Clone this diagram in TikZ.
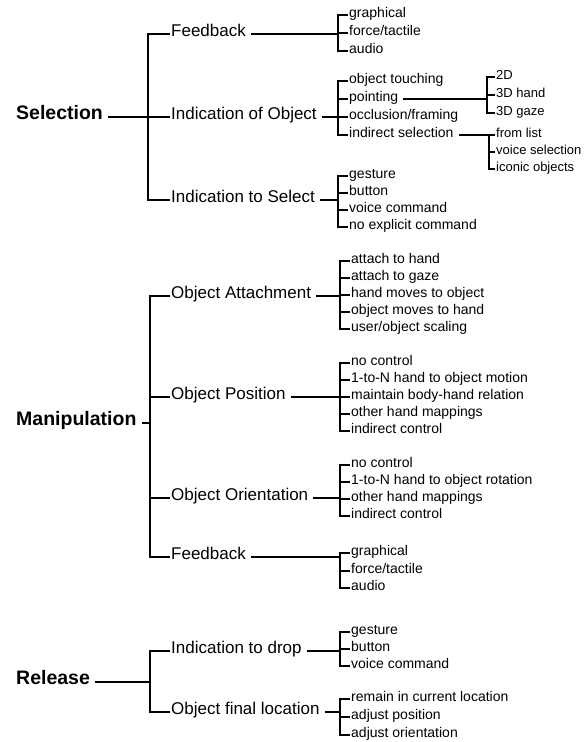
\documentclass[tikz,border=0pt]{standalone}
\usepackage{fontspec}
\setmainfont{Liberation Sans}
% one fork: parent line, bracket with top and bottom stubs, middle stubs
\newcommand\fork[5]{%
  \draw[link] (#1.east) -- (#1.east -| #2);
  \draw[brk] (#3.west) -- (#3.west -| #2) -- (#4.west -| #2) -- (#4.west);
  \foreach \c in {#5} {\draw[brk] (\c.west) -- (\c.west -| #2);}
}
\begin{document}
\begin{tikzpicture}[x=1pt,y=-1pt,
  txt/.style={anchor=west, inner xsep=1pt, inner ysep=0pt, text height=0.72em, text depth=0.2em},
  top/.style={txt, font=\fontsize{19.5}{20}\selectfont\bfseries},
  mid/.style={txt, font=\fontsize{17}{18}\selectfont},
  leaf/.style={txt, font=\fontsize{14}{15}\selectfont},
  sub/.style={txt, font=\fontsize{13}{14}\selectfont},
  link/.style={line width=1.7pt, shorten <=4pt},
  brk/.style={line width=2pt},
]
\useasboundingbox (0,0) rectangle (587,742);

% ---------- bracket positions ----------
\coordinate (bS) at (148,0);
\coordinate (bM) at (150,0);
\coordinate (bR) at (150,0);
\coordinate (bS1) at (338,0);
\coordinate (bS2) at (338,0);
\coordinate (bS3) at (338,0);
\coordinate (bPt) at (487,0);
\coordinate (bIn) at (489,0);
\coordinate (bM1) at (340,0);
\coordinate (bM2) at (340,0);
\coordinate (bM3) at (340,0);
\coordinate (bM4) at (340,0);
\coordinate (bR1) at (340,0);
\coordinate (bR2) at (340,0);

% ---------- Selection ----------
\node[top] (sel) at (15,117) {Selection};
\node[mid] (s1) at (170,34) {Feedback};
\node[mid] (s2) at (170,117) {Indication of Object};
\node[mid] (s3) at (170,200) {Indication to Select};

\node[leaf] (s1a) at (348,15) {graphical};
\node[leaf] (s1b) at (348,33) {force/tactile};
\node[leaf] (s1c) at (348,51) {audio};

\node[leaf] (s2a) at (348,81) {object touching};
\node[leaf] (s2b) at (348,99) {pointing};
\node[leaf] (s2c) at (348,117) {occlusion/framing};
\node[leaf] (s2d) at (348,135) {indirect selection};

\node[sub] (s2b1) at (495,77) {2D};
\node[sub] (s2b2) at (495,95) {3D hand};
\node[sub] (s2b3) at (495,113) {3D gaze};

\node[sub] (s2d1) at (495,135) {from list};
\node[sub] (s2d2) at (495,152) {voice selection};
\node[sub] (s2d3) at (495,169) {iconic objects};

\node[leaf] (s3a) at (348,176) {gesture};
\node[leaf] (s3b) at (348,193) {button};
\node[leaf] (s3c) at (348,210) {voice command};
\node[leaf] (s3d) at (348,227) {no explicit command};

\fork{sel}{bS}{s1}{s3}{s2}
\fork{s1}{bS1}{s1a}{s1c}{s1b}
\fork{s2}{bS2}{s2a}{s2d}{s2b,s2c}
\fork{s2b}{bPt}{s2b1}{s2b3}{s2b2}
\fork{s2d}{bIn}{s2d1}{s2d3}{s2d2}
\fork{s3}{bS3}{s3a}{s3d}{s3b,s3c}

% ---------- Manipulation ----------
\node[top] (man) at (15,423) {Manipulation};
\node[mid] (m1) at (170,296) {Object Attachment};
\node[mid] (m2) at (170,397) {Object Position};
\node[mid] (m3) at (170,498) {Object Orientation};
\node[mid] (m4) at (170,557) {Feedback};

\node[leaf] (m1a) at (350,261) {attach to hand};
\node[leaf] (m1b) at (350,278) {attach to gaze};
\node[leaf] (m1c) at (350,295) {hand moves to object};
\node[leaf] (m1d) at (350,312) {object moves to hand};
\node[leaf] (m1e) at (350,329) {user/object scaling};

\node[leaf] (m2a) at (350,363) {no control};
\node[leaf] (m2b) at (350,380) {1-to-N hand to object motion};
\node[leaf] (m2c) at (350,397) {maintain body-hand relation};
\node[leaf] (m2d) at (350,414) {other hand mappings};
\node[leaf] (m2e) at (350,431) {indirect control};

\node[leaf] (m3a) at (350,465) {no control};
\node[leaf] (m3b) at (350,482) {1-to-N hand to object rotation};
\node[leaf] (m3c) at (350,499) {other hand mappings};
\node[leaf] (m3d) at (350,516) {indirect control};

\node[leaf] (m4a) at (350,553) {graphical};
\node[leaf] (m4b) at (350,571) {force/tactile};
\node[leaf] (m4c) at (350,588) {audio};

\fork{man}{bM}{m1}{m4}{m2,m3}
\fork{m1}{bM1}{m1a}{m1e}{m1b,m1c,m1d}
\fork{m2}{bM2}{m2a}{m2e}{m2b,m2c,m2d}
\fork{m3}{bM3}{m3a}{m3d}{m3b,m3c}
\fork{m4}{bM4}{m4a}{m4c}{m4b}

% ---------- Release ----------
\node[top] (rel) at (15,682) {Release};
\node[mid] (r1) at (170,651) {Indication to drop};
\node[mid] (r2) at (170,712) {Object final location};

\node[leaf] (r1a) at (350,632) {gesture};
\node[leaf] (r1b) at (350,649) {button};
\node[leaf] (r1c) at (350,666) {voice command};

\node[leaf] (r2a) at (350,699) {remain in current location};
\node[leaf] (r2b) at (350,717) {adjust position};
\node[leaf] (r2c) at (350,735) {adjust orientation};

\draw[link] (rel.east) -- (rel.east -| bR);
\draw[brk] (r1.west) -- (r1.west -| bR) -- (r2.west -| bR) -- (r2.west);
\fork{r1}{bR1}{r1a}{r1c}{r1b}
\fork{r2}{bR2}{r2a}{r2c}{r2b}
\end{tikzpicture}
\end{document}
